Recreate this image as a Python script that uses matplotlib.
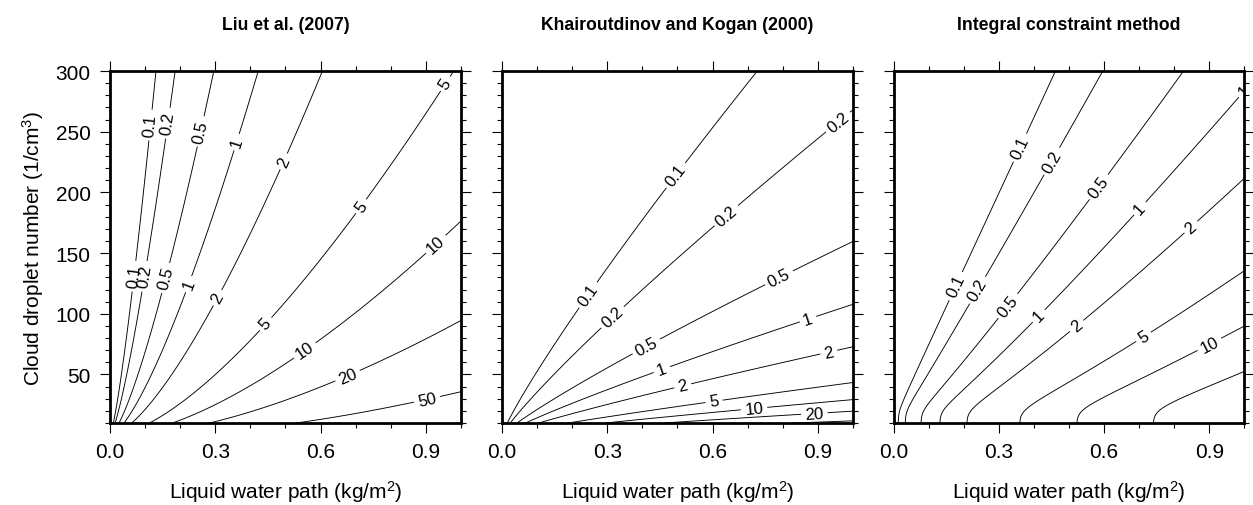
import numpy as np
import matplotlib.pyplot as plt
from matplotlib.ticker import MultipleLocator, FixedLocator

plt.rcParams['font.family'] = ['Liberation Sans', 'DejaVu Sans']
plt.rcParams['mathtext.fontset'] = 'custom'
plt.rcParams['mathtext.rm'] = 'Liberation Sans'
plt.rcParams['mathtext.it'] = 'Liberation Sans:italic'

titles = ['Liu et al. (2007)', 'Khairoutdinov and Kogan (2000)', 'Integral constraint method']
levels = [0.1, 0.2, 0.5, 1, 2, 5, 10, 20, 50]

# contour crossings: level, LWP (kg/m2), Nc (1/cm3)
liu_lev = [0.1, 0.2, 0.5, 1, 2,
           0.1, 0.2, 0.5, 1, 2, 5, 5, 5,
           0.1, 0.2, 0.5, 1, 2, 5, 10, 20, 50,
           0.1, 0.5, 1, 2, 5, 10, 20, 50,
           10, 10, 20, 20, 20, 50, 50]
liu_lwp = [0.143, 0.190, 0.287, 0.406, 0.595,
           0.133, 0.166, 0.247, 0.343, 0.476, 0.718, 0.771, 0.971,
           0.067, 0.095, 0.152, 0.209, 0.295, 0.442, 0.557, 0.68, 0.904,
           0.010, 0.022, 0.038, 0.076, 0.124, 0.19, 0.286, 0.47,
           0.50, 0.914, 0.50, 0.885, 1.0, 1.0, 0.485]
liu_nc = [300, 300, 300, 300, 300,
          255, 257, 251, 243, 228, 188, 210, 280,
          131, 131, 130, 126, 115, 92, 69, 47, 28.5,
          10, 10, 10, 10, 10, 10, 10, 10,
          56, 162, 28.5, 69.7, 82, 34, 12]

kk_lev = [0.1, 0.1, 0.1, 0.1, 0.1,
          0.2, 0.2, 0.2, 0.2,
          0.5, 0.5, 0.5, 0.5,
          1, 1, 1, 1,
          2, 2, 2, 2,
          5, 5, 5, 10, 10, 10, 20, 20, 50]
kk_lwp = [0.013, 0.138, 0.233, 0.50, 0.747,
          0.028, 0.309, 0.642, 0.98,
          0.047, 0.404, 0.794, 1.0,
          0.071, 0.452, 0.875, 1.0,
          0.105, 0.514, 0.932, 1.0,
          0.19, 0.604, 1.0, 0.30, 0.718, 1.0, 0.89, 1.0, 1.0]
kk_nc = [10, 74, 118, 213, 300,
         10, 98.6, 179.7, 249.7,
         10, 76.7, 127.4, 152,
         10, 57.4, 93, 104,
         10, 42.3, 67, 71,
         10, 28.5, 43.7, 10, 23, 29, 17.5, 20.3, 12.5]

ic_lev = [0.1, 0.2, 0.5,
          1, 2, 5, 10, 20,
          0.1, 0.1, 0.2, 0.2, 0.5, 0.5, 1, 1, 2, 2, 5, 10,
          0.1, 0.2, 0.5, 1, 2, 5, 10, 20,
          2, 2, 5, 5, 10, 10, 20, 20, 0.1]
ic_lwp = [0.425, 0.596, 0.84,
          1.0, 1.0, 1.0, 1.0, 1.0,
          0.337, 0.176, 0.455, 0.242, 0.617, 0.342, 0.735, 0.432, 0.864, 0.536, 0.716, 0.892,
          0.017, 0.031, 0.068, 0.125, 0.216, 0.394, 0.563, 0.75,
          0.2155, 0.242, 0.394, 0.422, 0.565, 0.588, 0.75, 0.778, 0.048]
ic_nc = [300, 300, 300,
         289.5, 214, 140, 98.6, 68.4,
         240, 123, 225, 119, 197.5, 102.7, 178, 93, 166, 85, 79.4, 79.4,
         10, 10, 10, 10, 10, 10, 10, 10,
         20, 35.4, 20, 31, 20, 31, 23, 31, 41]

# where the contour labels sit
liu_labels = [(0.133, 255), (0.166, 257), (0.247, 251), (0.343, 243), (0.476, 228),
              (0.718, 188), (0.985, 284), (0.067, 131), (0.095, 131), (0.152, 130),
              (0.209, 126), (0.295, 115), (0.442, 92), (0.557, 69), (0.914, 162),
              (0.68, 47), (0.904, 28.5)]
kk_labels = [(0.50, 213), (0.233, 118), (0.98, 250), (0.642, 180), (0.309, 99),
             (0.794, 127), (0.404, 77), (0.875, 93), (0.452, 57), (0.932, 67),
             (0.514, 42), (0.604, 28.5), (0.718, 23), (0.89, 17.5)]
ic_labels = [(0.337, 240), (0.176, 123), (0.455, 225), (0.242, 119), (0.617, 197.5),
             (0.342, 102.7), (0.735, 178), (0.432, 93), (0.864, 166), (0.536, 85),
             (0.716, 79.4), (0.892, 79.4), (0.99, 290)]


def quad(x, y):
    return np.stack([np.ones_like(x), x, y, x * x, x * y, y * y], axis=-1)


def lin(x, y):
    return np.stack([np.ones_like(x), x, y], axis=-1)


def n_eff(n):
    # flat below ~20 droplets/cm3
    return (n ** 6 + 20.0 ** 6) ** (1 / 6)


def fit_field(lev, lwp, nc, feats, ntrans, LL, NN):
    A = feats(np.log(np.array(lwp)), np.log(ntrans(np.array(nc, float))))
    coef, *_ = np.linalg.lstsq(A, np.log(lev), rcond=None)
    return np.exp(feats(np.log(LL), np.log(ntrans(NN))) @ coef)


lwp_grid = np.linspace(0.003, 1.0, 500)
nc_grid = np.linspace(10, 300, 500)
LL, NN = np.meshgrid(lwp_grid, nc_grid)

fields = [
    fit_field(liu_lev, liu_lwp, liu_nc, quad, lambda n: n, LL, NN),
    fit_field(kk_lev, kk_lwp, kk_nc, lin, lambda n: n, LL, NN),
    fit_field(ic_lev, ic_lwp, ic_nc, quad, n_eff, LL, NN),
]
label_pos = [liu_labels, kk_labels, ic_labels]

fig = plt.figure(figsize=(12.53, 5.06), dpi=100)
lefts = [0.0878, 0.4006, 0.7131]
for i in range(3):
    ax = fig.add_axes([lefts[i], 0.162, 0.2801, 0.6957])
    cs = ax.contour(LL, NN, fields[i], levels=levels, colors='k', linewidths=0.65)
    ax.clabel(cs, fmt=lambda v: f'{v:g}', fontsize=12, inline=True,
              inline_spacing=4, manual=label_pos[i])
    ax.set_xlim(0, 1)
    ax.set_ylim(10, 300)
    ax.xaxis.set_major_locator(FixedLocator([0, 0.3, 0.6, 0.9]))
    ax.set_xticklabels(['0.0', '0.3', '0.6', '0.9'])
    ax.xaxis.set_minor_locator(MultipleLocator(0.1))
    ax.yaxis.set_major_locator(FixedLocator([50, 100, 150, 200, 250, 300]))
    ax.yaxis.set_minor_locator(MultipleLocator(10))
    ax.tick_params(which='both', direction='out', top=True, right=True,
                   labelsize=15, width=0.8, pad=7)
    ax.tick_params(which='major', length=7)
    ax.tick_params(which='minor', length=3.5)
    if i > 0:
        ax.set_yticklabels([])
    else:
        ax.set_ylabel('Cloud droplet number (1/cm$^3$)', fontsize=15, labelpad=7)
    for sp in ax.spines.values():
        sp.set_linewidth(2)
    ax.set_xlabel('Liquid water path (kg/m$^2$)', fontsize=15, labelpad=12)
    ax.set_title(titles[i], fontsize=12.7, fontweight='bold', pad=30)

fig.savefig('out.png', dpi=100)
